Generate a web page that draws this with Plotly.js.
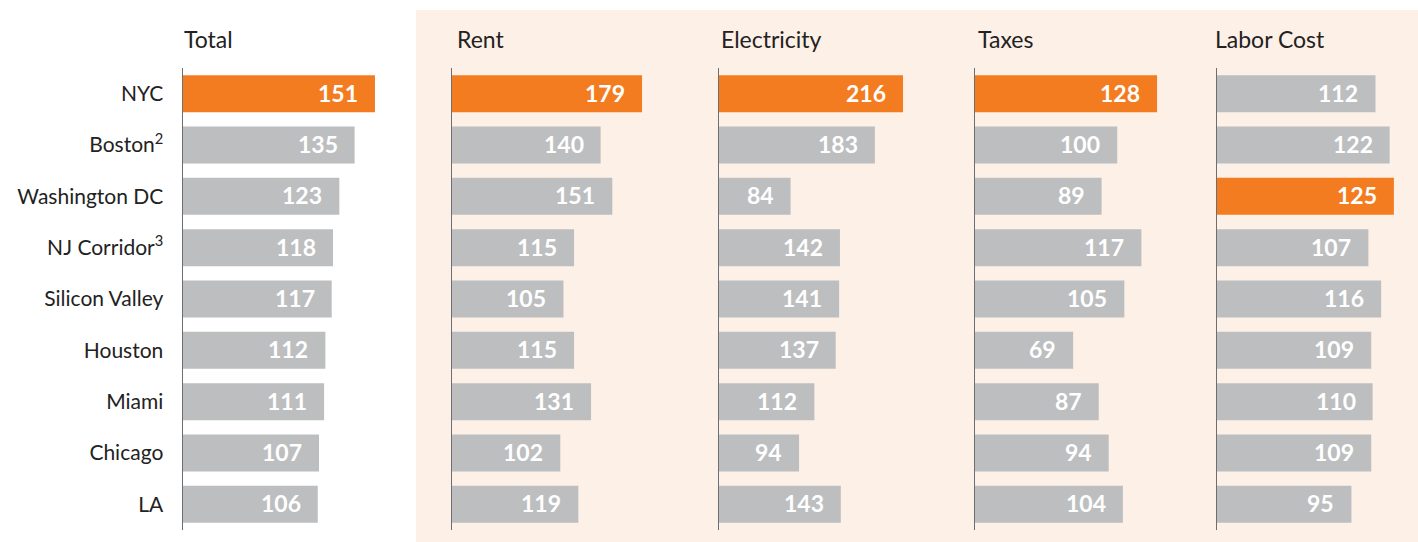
<!DOCTYPE html>
<html>
<head>
<meta charset="utf-8">
<script src="https://cdn.plot.ly/plotly-3.0.1.min.js"></script>
<style>html,body{margin:0;padding:0;background:#fff;}#chart{width:1418px;height:542px;}</style>
</head>
<body>
<div id="chart"></div>
<script>
const cities = ['NYC', 'Boston<sup>2</sup>', 'Washington DC', 'NJ Corridor<sup>3</sup>', 'Silicon Valley', 'Houston', 'Miami', 'Chicago', 'LA'];
const panelTitles = ['Total', 'Rent', 'Electricity', 'Taxes', 'Labor Cost'];
const total = [151, 135, 123, 118, 117, 112, 111, 107, 106];
const rent = [179, 140, 151, 115, 105, 115, 131, 102, 119];
const electricity = [216, 183, 84, 142, 141, 137, 112, 94, 143];
const taxes = [128, 100, 89, 117, 105, 69, 87, 94, 104];
const laborCost = [112, 122, 125, 107, 116, 109, 110, 109, 95];
const series = [total, rent, electricity, taxes, laborCost];

const W = 1418, H = 542, TOP = 68, BOT = 530;
const ORANGE = '#F47C20', GRAY = '#BDBEC0';
// panel geometry (pixels) and x-range maxima
const panelPx = [[183, 400], [452, 700], [719, 960], [975, 1200], [1217, 1412]];
const titlePx = [182, 455, 719, 976, 1213];
const rangeMax = [170.7, 233.6, 282.9, 158.2, 137.8];
const FONT = 'Lato, "Open Sans", sans-serif';

const traces = [];
const layout = {
  width: W, height: H,
  margin: {l: 0, r: 0, t: TOP, b: H - BOT, pad: 0},
  paper_bgcolor: 'rgba(0,0,0,0)',
  plot_bgcolor: 'rgba(0,0,0,0)',
  showlegend: false,
  bargap: 0.28,
  font: {family: FONT, color: '#222'},
  shapes: [{
    type: 'rect', xref: 'paper', yref: 'paper', layer: 'below',
    x0: 416 / W, x1: 1, y0: (BOT - 542) / (BOT - TOP), y1: (BOT - 10) / (BOT - TOP),
    fillcolor: '#FDF0E7', line: {width: 0}
  }],
  annotations: []
};

series.forEach((vals, i) => {
  const sfx = i === 0 ? '' : String(i + 1);
  const mx = Math.max(...vals);
  traces.push({
    type: 'bar', orientation: 'h',
    x: vals, y: cities,
    xaxis: 'x' + sfx, yaxis: 'y' + sfx,
    marker: {color: vals.map(v => v === mx ? ORANGE : GRAY), line: {width: 0}},
    hoverinfo: 'none'
  });
  const d0 = panelPx[i][0] / W, d1 = panelPx[i][1] / W;
  layout['xaxis' + sfx] = {
    domain: [d0, d1], range: [0, rangeMax[i]], anchor: 'y' + sfx,
    showgrid: false, zeroline: false, showline: false, showticklabels: false, ticks: '', fixedrange: true
  };
  layout['yaxis' + sfx] = {
    domain: [0, 1], anchor: 'x' + sfx, type: 'category',
    categoryorder: 'array', categoryarray: cities, range: [8.5, -0.5],
    showgrid: false, zeroline: false,
    showline: true, linecolor: '#6D6E71', linewidth: 1.5,
    showticklabels: i === 0, ticks: i === 0 ? 'outside' : '', ticklen: 14, tickcolor: 'rgba(0,0,0,0)',
    tickfont: {family: FONT, size: 21, color: '#222'}, fixedrange: true
  };
  layout.annotations.push({
    xref: 'paper', yref: 'paper', x: titlePx[i] / W, y: (BOT - 39) / (BOT - TOP),
    xanchor: 'left', yanchor: 'middle', showarrow: false,
    text: panelTitles[i], font: {family: FONT, size: 23, color: '#222'}
  });
  vals.forEach((v, j) => {
    layout.annotations.push({
      xref: 'x' + sfx, yref: 'y' + sfx, x: v, y: cities[j],
      xanchor: 'right', yanchor: 'middle', xshift: -15, yshift: 1, showarrow: false,
      text: String(v), font: {family: FONT, size: 23, color: '#FFFFFF', weight: 700}
    });
  });
});

Plotly.newPlot('chart', traces, layout, {displayModeBar: false, staticPlot: true});
</script>
</body>
</html>
